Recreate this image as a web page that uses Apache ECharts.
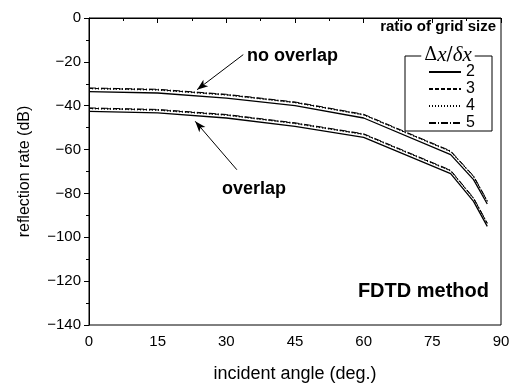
<!DOCTYPE html>
<html>
<head>
<meta charset="utf-8">
<script src="https://cdn.jsdelivr.net/npm/echarts@6/dist/echarts.min.js"></script>
<style>
  html, body { margin: 0; padding: 0; background: #fff; }
  #chart { width: 525px; height: 385px; }
</style>
</head>
<body>
<div id="chart"></div>
<script>
// incident angles (deg.) where the curves bend
const angles = [0, 15, 30, 45, 60, 79, 84, 87];

// reflection rate (dB), "no overlap" group
const noOverlap2 = [-33.6, -34.2, -36.5, -40.0, -45.6, -62.3, -73.7, -84.8];
const noOverlap3 = [-32.1, -32.7, -35.0, -38.5, -44.1, -60.8, -72.2, -83.5];
const noOverlap4 = [-32.3, -32.9, -35.2, -38.7, -44.3, -61.0, -72.4, -83.7];
const noOverlap5 = [-31.9, -32.5, -34.8, -38.3, -43.9, -60.6, -72.0, -83.3];

// reflection rate (dB), "overlap" group
const overlap2 = [-42.6, -43.3, -45.6, -49.4, -54.4, -71.0, -83.6, -95.0];
const overlap3 = [-41.2, -41.9, -44.2, -48.0, -53.0, -69.6, -82.2, -93.7];
const overlap4 = [-41.4, -42.1, -44.4, -48.2, -53.2, -69.8, -82.4, -93.9];
const overlap5 = [-41.0, -41.7, -44.0, -47.8, -52.8, -69.4, -82.0, -93.5];

const ratios = ['2', '3', '4', '5'];

// annotation arrows, [from, to] in data units
const arrowNoOverlap = [[33.7, -16.7], [23.6, -32.7]];
const arrowOverlap = [[32.3, -69.2], [23.2, -47.1]];

const FONT = '"Liberation Sans", Arial, sans-serif';

const dashTypes = {
  '2': 'solid',
  '3': [4, 2],
  '4': [1, 2],
  '5': [7, 2, 1, 2],
};

const zip = (ys) => angles.map((a, i) => [a, ys[i]]);

function lineSeries(name, ys, extra) {
  return Object.assign({
    name: name,
    type: 'line',
    data: zip(ys),
    showSymbol: false,
    symbol: 'none',
    silent: true,
    color: '#000',
    lineStyle: {
      color: '#000',
      width: name === '2' ? 1.3 : 1,
      type: dashTypes[name],
    },
  }, extra || {});
}

function arrow(pair) {
  return [
    { coord: pair[0], symbol: 'none' },
    { coord: pair[1], symbol: 'arrow', symbolSize: [6, 11] },
  ];
}

const chart = echarts.init(document.getElementById('chart'));
const minus = (v) => String(v).replace('-', '\u2212');

chart.setOption({
  animation: false,
  grid: {
    left: 89,
    right: 24,
    top: 18,
    bottom: 60,
    outerBoundsMode: 'none',
    show: true,
    borderColor: '#000',
    borderWidth: 1,
  },
  xAxis: {
    type: 'value',
    min: 0,
    max: 90,
    interval: 15,
    name: 'incident angle (deg.)',
    nameLocation: 'middle',
    nameGap: 40,
    nameTextStyle: { fontFamily: FONT, fontSize: 18, color: '#000' },
    axisLine: { lineStyle: { color: '#000' } },
    axisTick: { length: 5, lineStyle: { color: '#000' } },
    minorTick: { show: true, splitNumber: 2, length: 3, lineStyle: { color: '#000' } },
    axisLabel: { fontFamily: FONT, fontSize: 15, color: '#000', margin: 9 },
    splitLine: { show: false },
  },
  yAxis: {
    type: 'value',
    min: -140,
    max: 0,
    interval: 20,
    name: 'reflection rate (dB)',
    nameLocation: 'middle',
    nameGap: 56,
    nameTextStyle: { fontFamily: FONT, fontSize: 16, color: '#000' },
    axisLine: { show: true, lineStyle: { color: '#000' } },
    axisTick: { length: 5, lineStyle: { color: '#000' } },
    minorTick: { show: true, splitNumber: 2, length: 3, lineStyle: { color: '#000' } },
    axisLabel: { fontFamily: FONT, fontSize: 15, color: '#000', margin: 8, formatter: minus },
    splitLine: { show: false },
  },
  legend: {
    data: ratios,
    orient: 'vertical',
    left: 428,
    top: 64,
    padding: 0,
    itemWidth: 32,
    itemHeight: 15,
    itemGap: 1,
    selectedMode: false,
    itemStyle: { opacity: 0 },
    textStyle: { fontFamily: FONT, fontSize: 16, lineHeight: 15, color: '#000' },
  },
  graphic: [
    {
      type: 'rect',
      shape: { x: 405, y: 56, width: 87, height: 75 },
      style: { fill: 'none', stroke: '#000', lineWidth: 1 },
      silent: true,
    },
    {
      type: 'text',
      style: {
        x: 448,
        y: 55,
        text: '{u|\u0394}{i|x}{u|/}{i|\u03b4x}',
        align: 'center',
        verticalAlign: 'middle',
        backgroundColor: '#fff',
        padding: [0, 3],
        rich: {
          u: { fontFamily: '"DejaVu Serif", "Liberation Serif", serif', fontSize: 18, color: '#000' },
          i: { fontFamily: '"Liberation Serif", serif', fontStyle: 'italic', fontSize: 21, color: '#000' },
        },
      },
      silent: true,
    },
    {
      type: 'text',
      style: {
        x: 496, y: 27, text: 'ratio of grid size', align: 'right', verticalAlign: 'middle',
        fontFamily: FONT, fontWeight: 'bold', fontSize: 15, fill: '#000',
      },
      silent: true,
    },
    {
      type: 'text',
      style: {
        x: 247, y: 56, text: 'no overlap', align: 'left', verticalAlign: 'middle',
        fontFamily: FONT, fontWeight: 'bold', fontSize: 18, fill: '#000',
      },
      silent: true,
    },
    {
      type: 'text',
      style: {
        x: 222, y: 189, text: 'overlap', align: 'left', verticalAlign: 'middle',
        fontFamily: FONT, fontWeight: 'bold', fontSize: 18, fill: '#000',
      },
      silent: true,
    },
    {
      type: 'text',
      style: {
        x: 489, y: 291, text: 'FDTD method', align: 'right', verticalAlign: 'middle',
        fontFamily: FONT, fontWeight: 'bold', fontSize: 20, fill: '#000',
      },
      silent: true,
    },
  ],
  series: [
    lineSeries('2', noOverlap2, {
      markLine: {
        silent: true,
        symbol: ['none', 'arrow'],
        label: { show: false },
        lineStyle: { color: '#000', width: 1, type: 'solid' },
        data: [arrow(arrowNoOverlap), arrow(arrowOverlap)],
      },
    }),
    lineSeries('3', noOverlap3),
    lineSeries('4', noOverlap4),
    lineSeries('5', noOverlap5),
    lineSeries('2', overlap2),
    lineSeries('3', overlap3),
    lineSeries('4', overlap4),
    lineSeries('5', overlap5),
  ],
});
</script>
</body>
</html>
